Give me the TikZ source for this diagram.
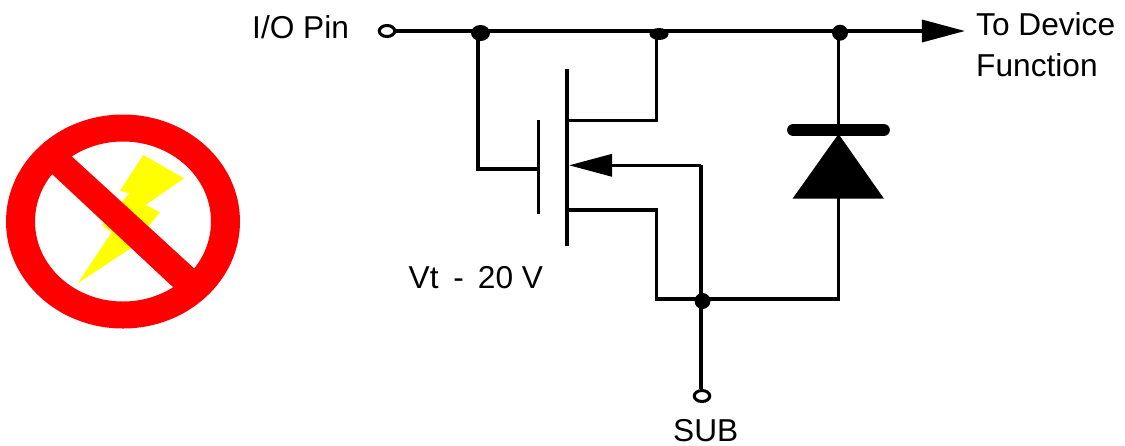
\documentclass[tikz,border=0pt]{standalone}
\usepackage{fontspec}
\setmainfont{Liberation Sans}
\usetikzlibrary{arrows.meta,shapes.geometric}
\definecolor{boltyellow}{RGB}{255,255,0}
\definecolor{signred}{RGB}{255,0,0}

\begin{document}
\begin{tikzpicture}[x=0.01cm,y=-0.01cm,
    wire/.style={line width=0.033cm},
    lbl/.style={anchor=base west,inner sep=0pt,font=\fontsize{9}{11}\selectfont},
    dot/.style={ellipse,fill=black,inner sep=0pt,minimum width=#1},
    pinhole/.style={ellipse,draw=black,fill=white,line width=0.03cm,inner sep=0pt,minimum width=0.155cm,minimum height=0.11cm}]
    \useasboundingbox (0,0) rectangle (1125,445);

    % no-ESD sign
    \fill[boltyellow] (143.3,155) -- (184,178.3) -- (145.7,205) -- (160,212.3) -- (130.7,248.3) -- (77.7,283.3)
        -- (111.7,232.3) -- (101.7,225) -- (129.3,193.3) -- (120,190.7) -- cycle;
    \fill[signred,even odd rule] (123,221.5) ellipse (117 and 107) (123,221.5) ellipse (88 and 80);
    \fill[signred] (55,141) -- (37,160) -- (190,303) -- (209,282) -- cycle;

    % fixed points
    \coordinate (wireend) at (965,31);
    \coordinate (gatein) at (537,169);
    \coordinate (gatetop) at (538.7,120);
    \coordinate (gatebot) at (538.7,214);
    \coordinate (chtop) at (567,69);
    \coordinate (chbot) at (567,246);
    \coordinate (drain) at (567,120.7);
    \coordinate (source) at (567,210);
    \coordinate (body) at (569,165.3);
    \coordinate (bodycorner) at (701,165.3);
    \coordinate (catbar) at (838.5,130);
    \coordinate (anode) at (838.5,198);
    \coordinate (apex) at (838.5,134);
    \coordinate (srccorner) at (656.7,299);
    \coordinate (anodecorner) at (838.5,299);

    % pins and junctions
    \node[pinhole] (iopin) at (387,31) {};
    \node[pinhole] (subpin) at (702,396) {};
    \node[dot=0.19cm,minimum height=0.16cm] (tapgate) at (480.5,33) {};
    \node[dot=0.19cm,minimum height=0.12cm] (tapdrain) at (659,34) {};
    \node[dot=0.16cm,minimum height=0.16cm] (tapdiode) at (840,32.7) {};
    \node[dot=0.16cm,minimum height=0.16cm] (tapsub) at (702.5,301) {};

    % wires
    \draw[wire,-{Triangle[length=0.43cm,width=0.22cm]}] (iopin) -- (wireend);
    \draw[wire] ([xshift=-0.025cm]tapgate.center) |- (gatein);
    \draw[wire] (gatetop) -- (gatebot);
    \draw[wire] (chtop) -- (chbot);
    \draw[wire] (drain) -| ([xshift=-0.023cm]tapdrain.center);
    \draw[wire] (source) -| (srccorner) -- (anodecorner) -- (anode);
    \draw[wire,-{Triangle[length=0.43cm,width=0.22cm]}] (bodycorner) -- (body);
    \draw[wire] (subpin.north -| bodycorner) -- (bodycorner);
    \draw[wire] (tapdiode -| catbar) -- (catbar);

    % diode
    \fill (apex) -- (884,198.7) -- (792.5,198.7) -- cycle;
    \draw[line width=0.127cm,line cap=round] ([xshift=-0.45cm]catbar) -- ([xshift=0.45cm]catbar);

    % labels
    \node[lbl] (iolabel) at (251.5,38) {I/O Pin};
    \node[lbl] (tolabel) at (975.5,35) {To Device};
    \node[lbl] (fnlabel) at (975.5,76) {Function};
    \node[lbl] (vtlabel) at (408,288) {Vt\hspace{0.06cm}\ -\hspace{0.14cm}20 V};
    \node[lbl] (sublabel) at (672.5,441) {SUB};
\end{tikzpicture}
\end{document}
